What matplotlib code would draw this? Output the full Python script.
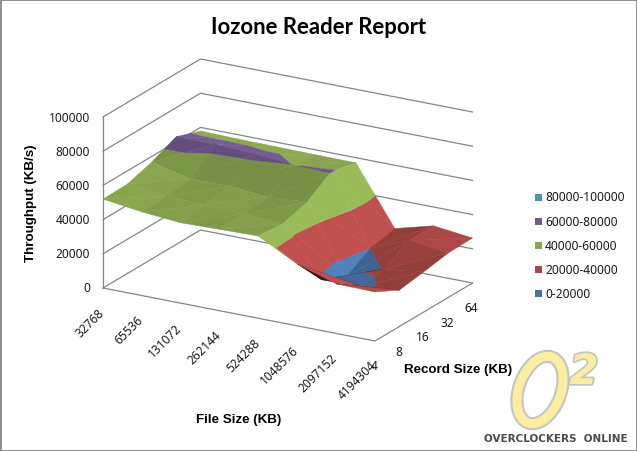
import numpy as np
import matplotlib
matplotlib.use("Agg")
import matplotlib.pyplot as plt
from matplotlib.patches import Ellipse, Polygon, Rectangle
import matplotlib.patheffects as pe

file_sizes = ["32768", "65536", "131072", "262144", "524288", "1048576", "2097152", "4194304"]
record_sizes = ["4", "8", "16", "32", "64"]
z_ticks = [0, 20000, 40000, 60000, 80000, 100000]

# throughput per record size, one value per file size
rec_4 = [52000, 48900, 47000, 47600, 48100, 36200, 29000, 28650]
rec_8 = [52300, 49700, 48900, 48000, 46800, 18500, 19000, 21300]
rec_16 = [56700, 51200, 51500, 49500, 51000, 11700, 20700, 23500]
rec_32 = [63000, 63000, 62000, 59900, 60500, 20000, 29000, 26000]
rec_64 = [57900, 57500, 57300, 57100, 57000, 23000, 29000, 26300]

band_labels = ["80000-100000", "60000-80000", "40000-60000", "20000-40000", "0-20000"]
legend_colors = ["#4198AF", "#71588F", "#89A54E", "#AA4643", "#4572A7"]
band_edges = [0, 20000, 40000, 60000, 80000, 100000]
band_colors = ["#4F81BD", "#C0504D", "#9BBB59", "#8064A2", "#4BACC6"]

GRID = "#868686"
FONT = "Noto Sans"
BOLD = "Liberation Sans"

# oblique projection of the chart box, measured on the reference in pixels
ORIGIN = np.array([103.0, 289.0])
FILE_AXIS = np.array([272.0, 53.0])
REC_AXIS = np.array([97.5, -58.0])
Z_PX = 171.0


def project(i, v, z=0.0):
    u = i / (len(file_sizes) - 1)
    w = v / (len(record_sizes) - 1)
    x = ORIGIN[0] + u * FILE_AXIS[0] + w * REC_AXIS[0]
    y = ORIGIN[1] + u * FILE_AXIS[1] + w * REC_AXIS[1] - z / z_ticks[-1] * Z_PX
    return x, y


def clip_band(tri, lo, hi):
    # cut a triangle of (i, v, z) points down to one value band
    poly = [np.array(p, dtype=float) for p in tri]
    for limit, keep_above in ((lo, True), (hi, False)):
        out = []
        for a, b in zip(poly, poly[1:] + poly[:1]):
            a_in = a[2] >= limit if keep_above else a[2] <= limit
            b_in = b[2] >= limit if keep_above else b[2] <= limit
            if a_in:
                out.append(a)
            if a_in != b_in:
                t = (limit - a[2]) / (b[2] - a[2])
                out.append(a + t * (b - a))
        poly = out
        if not poly:
            break
    return poly


def shade_for(tri):
    (i0, v0, z0), (i1, v1, z1), (i2, v2, z2) = tri
    a = np.array([[i1 - i0, v1 - v0], [i2 - i0, v2 - v0]], dtype=float)
    dz_di, dz_dv = np.linalg.solve(a, [(z1 - z0) / 1e5, (z2 - z0) / 1e5])
    shade = 0.84 - 1.9 * dz_di - 1.2 * dz_dv
    shade = float(np.clip(shade, 0.77, 1.0))
    # facing away from the viewer: we see the dark underside
    pts = np.array([project(*p) for p in tri])
    e1, e2 = pts[1] - pts[0], pts[2] - pts[0]
    area = e1[0] * e2[1] - e1[1] * e2[0]
    return shade, area


def draw_triangle(ax, tri, flip):
    shade, area = shade_for(tri)
    if area * flip > 0:
        shade = 0.3
    for k, col in enumerate(band_colors):
        poly = clip_band(tri, band_edges[k], band_edges[k + 1])
        if len(poly) < 3:
            continue
        xy = [project(*p) for p in poly]
        rgb = np.clip(np.array(matplotlib.colors.to_rgb(col)) * shade, 0, 1)
        ax.add_patch(Polygon(xy, closed=True, fc=rgb, ec=rgb, lw=0.3, zorder=3))


fig = plt.figure(figsize=(6.37, 4.52), dpi=100)
ax = fig.add_axes([0, 0, 1, 1])
ax.set_xlim(0, 637)
ax.set_ylim(452, 0)
ax.axis("off")

ax.add_patch(Rectangle((0.5, 0.5), 636, 451, fc="white", ec="#8c8c8c", lw=1.4, zorder=0))

# walls and floor
n_i = len(file_sizes) - 1
n_v = len(record_sizes) - 1
for z in z_ticks:
    xs, ys = zip(project(0, 0, z), project(0, n_v, z), project(n_i, n_v, z))
    ax.plot(xs, ys, color=GRID, lw=0.9, zorder=1)
xs, ys = zip(project(0, 0, z_ticks[0]), project(0, 0, z_ticks[-1]))
ax.plot(xs, ys, color=GRID, lw=0.9, zorder=1)
xs, ys = zip(project(0, 0), project(n_i, 0), project(n_i, n_v))
ax.plot(xs, ys, color=GRID, lw=0.9, zorder=1)

# surface, painted from the back corner to the front corner
rows = [rec_4, rec_8, rec_16, rec_32, rec_64]
flat = [(0, 0, 0), (1, 0, 0), (1, 1, 0)]
flat_area = shade_for(flat)[1]
flip = 1 if flat_area < 0 else -1
for v in range(n_v - 1, -1, -1):
    for i in range(n_i):
        a = (i, v, rows[v][i])
        b = (i + 1, v, rows[v][i + 1])
        c = (i + 1, v + 1, rows[v + 1][i + 1])
        d = (i, v + 1, rows[v + 1][i])
        draw_triangle(ax, [a, c, d], flip)
        draw_triangle(ax, [a, b, c], flip)

# tick labels
for z in z_ticks:
    x, y = project(0, 0, z)
    ax.text(x - 13, y, str(z), ha="right", va="center", fontsize=8.6, family=FONT, color="#1a1a1a")
for i, label in enumerate(file_sizes):
    x, y = project(i, 0)
    ax.text(x - 1, y + 22, label, ha="right", va="center", rotation=45, rotation_mode="anchor",
            fontsize=8.6, family=FONT, color="#1a1a1a")
for v, label in enumerate(record_sizes):
    x, y = project(n_i, v)
    ax.text(x - 1, y + 25, label, ha="center", va="center", fontsize=8.6, family=FONT, color="#1a1a1a")

# titles
ax.text(319, 27, "Iozone Reader Report", ha="center", va="center", fontsize=15.9,
        fontweight="bold", family="Lato", color="black")
ax.text(31, 203, "Throughput (KB/s)", ha="center", va="center", rotation=90, fontsize=9.6,
        fontweight="bold", family=BOLD, color="black")
ax.text(239, 420, "File Size (KB)", ha="center", va="center", fontsize=9.6,
        fontweight="bold", family=BOLD, color="black")
ax.text(458, 370, "Record Size (KB)", ha="center", va="center", fontsize=9.6,
        fontweight="bold", family=BOLD, color="black")

# legend
for k, (label, col) in enumerate(zip(band_labels, legend_colors)):
    y = 198 + k * 24.2
    ax.add_patch(Rectangle((535, y - 3.5), 7, 7, fc=col, ec="none", zorder=4))
    ax.text(545, y, label, ha="left", va="center", fontsize=8.6, family=FONT, color="#1a1a1a")

# watermark logo
ring = dict(xy=(540, 391), width=42, height=70, angle=20, fc="none", zorder=5)
ax.add_patch(Ellipse(ec="#c4c4c4", lw=9.5, **ring))
ax.add_patch(Ellipse(ec="#fbee9e", lw=6.5, **ring))
ax.text(584, 373, "2", ha="center", va="center", fontsize=30, fontweight="bold", style="italic",
        family="DejaVu Sans", color="#fbee9e", zorder=5,
        path_effects=[pe.withStroke(linewidth=2.5, foreground="#c4c4c4")])
ax.text(556, 439, "OVERCLOCKERS  ONLINE", ha="center", va="center", fontsize=7.5,
        fontweight="bold", family="DejaVu Sans", color="#4a4a4a", zorder=5)

fig.savefig("out.png", dpi=100)
